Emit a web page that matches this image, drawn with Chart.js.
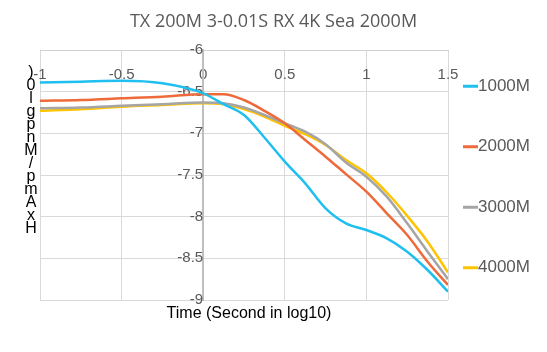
<!DOCTYPE html>
<html>
<head>
<meta charset="utf-8">
<script src="https://cdn.jsdelivr.net/npm/chart.js@4.4.1/dist/chart.umd.min.js"></script>
<style>
  html, body { margin: 0; padding: 0; background: #fff; }
  #wrap { width: 547px; height: 352px; }
</style>
</head>
<body>
<div id="wrap"><canvas id="chart"></canvas></div>
<script>
// time axis (log10 seconds)
const times = [-1, -0.75, -0.5, -0.25, 0, 0.125, 0.25, 0.375, 0.5, 0.625, 0.75, 0.875, 1, 1.125, 1.25, 1.375, 1.5];

const series1000 = [-6.39, -6.38, -6.37, -6.40, -6.52, -6.65, -6.78, -7.05, -7.34, -7.60, -7.90, -8.08, -8.16, -8.26, -8.42, -8.64, -8.90];
const series2000 = [-6.61, -6.60, -6.58, -6.56, -6.53, -6.53, -6.60, -6.73, -6.88, -7.08, -7.28, -7.49, -7.70, -7.96, -8.22, -8.54, -8.82];
const series3000 = [-6.70, -6.69, -6.67, -6.65, -6.63, -6.64, -6.69, -6.78, -6.88, -6.98, -7.13, -7.35, -7.52, -7.76, -8.08, -8.42, -8.75];
const series4000 = [-6.73, -6.71, -6.68, -6.66, -6.64, -6.65, -6.71, -6.80, -6.91, -7.01, -7.14, -7.32, -7.48, -7.71, -7.99, -8.30, -8.67];

const seriesNames = ['1000M', '2000M', '3000M', '4000M'];
const seriesColors = ['#1FBFEF', '#EE6A3A', '#A5A5A5', '#FFC400'];

const yTitleChars = [')', '0', 'l', 'g', 'p', 'n', 'M', '/', 'p', 'm', 'A', 'x', 'H'];
const xTitle = 'Time (Second in log10)';
const chartTitle = 'TX 200M 3-0.01S RX 4K Sea 2000M';

const toPoints = vals => vals.map((v, i) => ({x: times[i], y: v}));
const tickFont = { size: 15, family: '"Liberation Sans", Arial' };

const extraText = {
  id: 'extraText',
  afterDraw(chart) {
    const {ctx, chartArea, width} = chart;
    ctx.save();
    // chart title, centred on the whole canvas
    ctx.fillStyle = '#595959';
    ctx.font = '18px "Open Sans", sans-serif';
    ctx.textAlign = 'center';
    ctx.textBaseline = 'middle';
    ctx.fillText(chartTitle, width / 2, 22);
    // x axis title
    ctx.fillStyle = '#000';
    ctx.font = '16px "Liberation Sans", Arial, sans-serif';
    ctx.fillText(xTitle, (chartArea.left + chartArea.right) / 2 + 5, chartArea.bottom + 14);
    // stacked y axis title
    yTitleChars.forEach((c, i) => {
      ctx.fillText(c, 31, 73 + i * 13);
    });
    // legend
    const cy = (chartArea.top + chartArea.bottom) / 2 + 2;
    ctx.font = '17px "Liberation Sans", Arial, sans-serif';
    ctx.textAlign = 'left';
    chart.data.datasets.forEach((ds, i) => {
      const y = cy + (i - 1.5) * 60.5;
      ctx.strokeStyle = ds.borderColor;
      ctx.lineWidth = 3;
      ctx.beginPath();
      ctx.moveTo(chartArea.right + 15, y);
      ctx.lineTo(chartArea.right + 30, y);
      ctx.stroke();
      ctx.fillStyle = '#595959';
      ctx.fillText(ds.label, chartArea.right + 30, y);
    });
    ctx.restore();
  }
};

new Chart(document.getElementById('chart'), {
  type: 'scatter',
  data: {
    datasets: [series1000, series2000, series3000, series4000].map((s, i) => ({
      label: seriesNames[i],
      data: toPoints(s),
      borderColor: seriesColors[i],
      backgroundColor: seriesColors[i],
      borderWidth: 2.5,
      showLine: true,
      pointRadius: 0,
      cubicInterpolationMode: 'monotone'
    }))
  },
  options: {
    responsive: true,
    maintainAspectRatio: false,
    animation: false,
    layout: { padding: { left: 40, right: 99, top: 50, bottom: 52 } },
    scales: {
      x: {
        type: 'linear',
        position: { y: -6 },
        min: -1, max: 1.5,
        ticks: { stepSize: 0.5, color: '#595959', padding: 16, font: tickFont, callback: v => String(v) },
        grid: { color: '#D9D9D9', drawTicks: false },
        border: { color: '#D0D0D0' }
      },
      y: {
        type: 'linear',
        position: { x: 0 },
        min: -9, max: -6,
        ticks: { stepSize: 0.5, color: '#595959', padding: 18, font: tickFont, callback: v => String(v) },
        grid: { color: '#D9D9D9', drawTicks: false },
        border: { color: '#BFBFBF', width: 2 }
      }
    },
    plugins: {
      legend: { display: false },
      tooltip: { enabled: false },
      title: { display: false }
    }
  },
  plugins: [extraText]
});
</script>
</body>
</html>
